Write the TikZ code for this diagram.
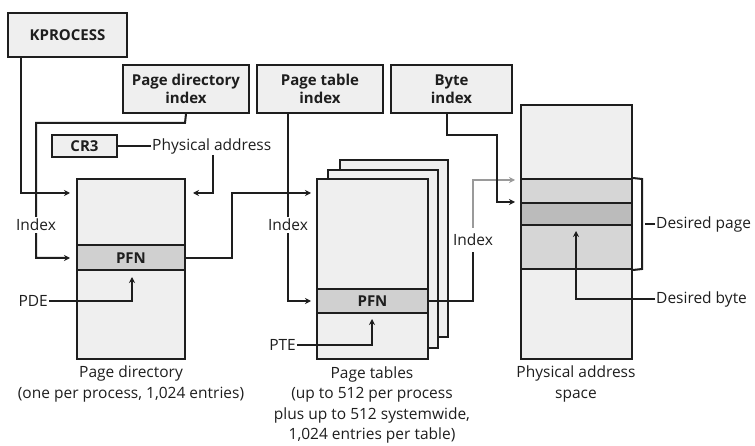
\documentclass[tikz,border=0pt]{standalone}
\usepackage{fontspec}
\setmainfont{Open Sans}
\usetikzlibrary{arrows.meta,calc}
\definecolor{boxfill}{HTML}{EFEFEF}
\definecolor{pfnfill}{HTML}{D0D0D0}
\definecolor{bandlight}{HTML}{D6D6D6}
\definecolor{banddark}{HTML}{BBBBBB}
\definecolor{ink}{HTML}{1E1E1E}
\definecolor{grayline}{HTML}{9A9A9A}
\tikzset{
  box/.style={draw=ink, line width=2pt, fill=boxfill, inner sep=0pt, align=center,
    font=\fontsize{15}{18}\selectfont\bfseries, text=ink},
  pfn/.style={draw=ink, line width=2pt, fill=pfnfill, inner sep=0pt,
    font=\fontsize{15}{16}\selectfont\bfseries, text=ink},
  band/.style={draw=ink, line width=2pt, inner sep=0pt},
  conn/.style={draw=ink, line width=2pt},
  arr/.style={conn, -{Stealth[length=6pt,width=6pt]}},
  garr/.style={draw=grayline, line width=2pt, -{Stealth[length=6pt,width=6pt]}},
  lbl/.style={inner sep=1pt, text=ink, font=\fontsize{15.5}{16}\selectfont},
  wlbl/.style={lbl, fill=white, inner sep=2pt},
  captxt/.style={inner sep=0pt, text=ink, align=center, font=\fontsize{15.5}{20.3}\selectfont},
}
\begin{document}
\begin{tikzpicture}[x=1pt,y=-1pt]
\useasboundingbox[fill=white] (0,0) rectangle (755,446);

% boxes at top
\node[box, minimum width=119pt, minimum height=44pt] (kp) at (67.5,35) {KPROCESS};
\node[box, minimum width=126pt, minimum height=48pt] (pdi) at (186,89) {Page directory\\index};
\node[box, minimum width=126pt, minimum height=48pt] (pti) at (320,89) {Page table\\index};
\node[box, minimum width=121pt, minimum height=48pt] (bi) at (451.5,89) {Byte\\index};
\node[box, minimum width=65pt, minimum height=22pt] (cr3) at (84.5,146) {CR3};
\node[lbl, anchor=west] (pa) at (151,146) {Physical address};

% page directory
\node[box, minimum width=108pt, minimum height=180pt] (pd) at (131,269) {};
\node[pfn, minimum width=108pt, minimum height=25pt] (pdpfn) at (131,258) {PFN};

% page tables (stack)
\node[box, minimum width=108pt, minimum height=177pt] (pt3) at (394,248.5) {};
\node[box, minimum width=110pt, minimum height=178pt] (pt2) at (383,259) {};
\node[box, minimum width=111pt, minimum height=180pt] (pt1) at (372.5,269) {};
\node[pfn, minimum width=111pt, minimum height=24pt] (ptpfn) at (372.5,301) {PFN};

% physical address space
\node[box, minimum width=111pt, minimum height=254pt] (phys) at (576.5,232) {};
\fill[bandlight] (521,179) rectangle (632,203);
\fill[banddark] (521,203) rectangle (632,225);
\fill[bandlight] (521,225) rectangle (632,269);
\node[band, minimum width=111pt, minimum height=24pt] (pg1) at (576.5,191) {};
\node[band, minimum width=111pt, minimum height=22pt] (pg2) at (576.5,214) {};
\node[band, minimum width=111pt, minimum height=44pt] (pg3) at (576.5,247) {};
\node[box, fill=none, minimum width=111pt, minimum height=254pt] at (576.5,232) {};

% coordinates
\coordinate (kpx) at (21,0);
\coordinate (pdin1) at (70,193);
\coordinate (pdin2) at (70,258);
\coordinate (pain) at (193,193);
\coordinate (ptin1) at (311,193);
\coordinate (ptin2) at (311,301);
\coordinate (physin1) at (515,180);
\coordinate (physin2) at (515,202);
\coordinate (pdex) at (36,0);
\coordinate (ptex) at (288,0);
\coordinate (ptpfnx) at (473,0);
\coordinate (bix) at (447,0);

% KPROCESS -> page directory
\draw[arr] (kp.south -| kpx) |- (pdin1);
% page directory index
\draw[arr] (pdi.south) -- (185,123) -| (pdex |- pdin2) -- (pdin2);
\node[wlbl] (idx1) at (36,225) {Index};
% CR3 physical address
\draw[conn] (cr3.east) -- (pa.west);
\draw[arr] (pa.south -| 213,0) |- (pain);
% PD PFN -> page tables
\draw[arr] (pdpfn.east) -| (232,193) -- (ptin1);
% page table index
\draw[arr] (pti.south -| ptex) |- (ptin2);
\node[wlbl] (idx2) at (288,225) {Index};
% PDE / PTE
\node[lbl, anchor=east] (pde) at (49,301) {PDE};
\draw[arr] (pde.east) -| (132,277);
\node[lbl, anchor=east] (pte) at (297,345) {PTE};
\draw[arr] (pte.east) -| (372,319);
% PT PFN -> physical
\draw[conn] (ptpfn.east) -| (ptpfnx |- 0,252);
\draw[garr] (ptpfnx |- 0,228) |- (physin1);
\node[lbl] (idx3) at (473,240) {Index};
% byte index
\draw[arr] (bi.south -| bix) |- (497,135) |- (physin2);

% desired page bracket
\draw[conn] (pg1.north east) -- (642,179) -- (642,269) -- (pg3.south east);
\node[lbl, anchor=west] (dpage) at (655,224) {Desired page};
\draw[conn] (645,224) -- (dpage.west);
\node[lbl, anchor=west] (dbyte) at (655,299) {Desired byte};
\draw[arr] (dbyte.west) -| (576,231);

% captions
\node[captxt] (cpd) at (131,384) {Page directory\\(one per process, 1,024 entries)};
\node[captxt] (cpt) at (372,405) {Page tables\\(up to 512 per process\\plus up to 512 systemwide,\\1,024 entries per table)};
\node[captxt] (cph) at (576,384) {Physical address\\space};
\end{tikzpicture}
\end{document}
